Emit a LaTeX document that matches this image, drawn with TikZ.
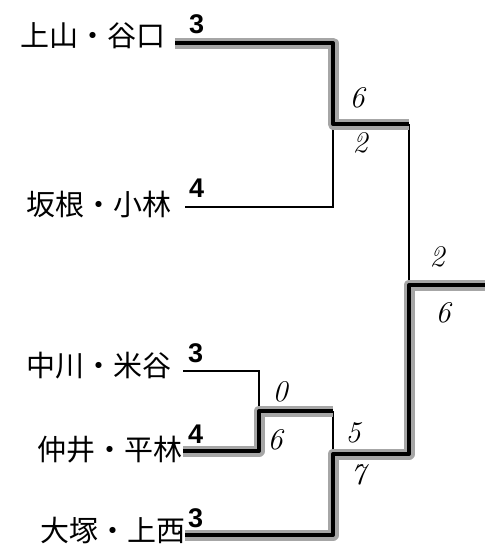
\documentclass[tikz,border=0pt]{standalone}
\usepackage{fontspec}
\newfontfamily\jpfont{Noto Sans CJK JP}
\newfontfamily\numfont{Liberation Sans}
\begin{document}
\begin{tikzpicture}[x=1pt,y=-1pt,
  thinline/.style={line width=1.6pt, black, line join=miter},
  winline/.style={line width=4pt, black, line join=round,
     preaction={draw, line width=11pt, black!35, line join=round}},
  playername/.style={anchor=east, font=\jpfont\fontsize{29}{29}\selectfont, inner sep=0pt},
  scoretext/.style={anchor=base west, font=\numfont\bfseries\fontsize{27}{27}\selectfont, inner sep=0pt},
  handtext/.style={font=\itshape\fontsize{30}{30}\selectfont, inner sep=0pt}]
\useasboundingbox (0,0) rectangle (485,552);
% coordinates
\coordinate (p1) at (175,43);  \coordinate (a1) at (333,43);
\coordinate (p2) at (185,207); \coordinate (a2) at (333,207);
\coordinate (m1) at (333,124); \coordinate (r1) at (409,124);
\coordinate (p3) at (183,371); \coordinate (b1) at (259,371);
\coordinate (p4) at (183,451); \coordinate (b2) at (259,451);
\coordinate (m2) at (259,411); \coordinate (c1) at (333,411);
\coordinate (p5) at (185,535); \coordinate (c2) at (333,535);
\coordinate (m3) at (333,454); \coordinate (r2) at (409,454);
\coordinate (r0) at (409,285); \coordinate (out) at (485,285);
% thin lines
\draw[thinline] (p2) -- (a2) -- (m1);
\draw[thinline] (r1) -- (r0);
\draw[thinline] (p3) -- (b1) -- (m2);
\draw[thinline] (c1) -- (m3);
% winners
\draw[winline] (p1) -- (a1) -- (m1) -- (r1);
\draw[winline] (p4) -- (b2) -- (m2) -- (c1);
\draw[winline] (p5) -- (c2) -- (m3) -- (r2) -- (r0) -- (out);
% names
\node[playername] (n1) at (166,36) {上山・谷口};
\node[playername] (n2) at (172,205) {坂根・小林};
\node[playername] (n3) at (172,366) {中川・米谷};
\node[playername] (n4) at (183,450) {仲井・平林};
\node[playername] (n5) at (186,530) {大塚・上西};
% scores
\node[scoretext] (s1) at (189,33) {3};
\node[scoretext] (s2) at (189,197) {4};
\node[scoretext] (s3) at (188,362) {3};
\node[scoretext] (s4) at (188,443) {4};
\node[scoretext] (s5) at (188,527) {3};
% handwritten scores
\node[handtext] (h1) at (357,98) {6};
\node[handtext] (h2) at (360,143) {2};
\node[handtext] (h3) at (280,392) {0};
\node[handtext] (h4) at (275,440) {6};
\node[handtext] (h5) at (353,433) {5};
\node[handtext] (h6) at (358,475) {7};
\node[handtext] (h7) at (437,257) {2};
\node[handtext] (h8) at (443,313) {6};
\end{tikzpicture}
\end{document}
